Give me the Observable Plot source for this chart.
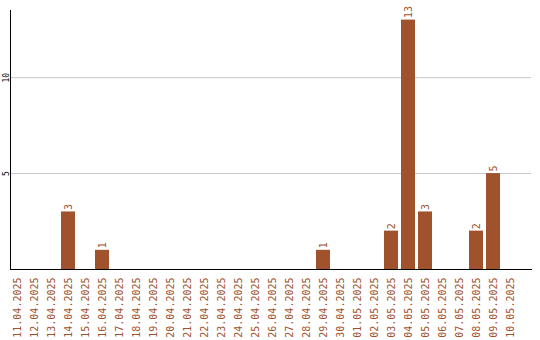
<!DOCTYPE html>
<html>
<head>
<meta charset="utf-8">
<script src="https://cdn.jsdelivr.net/npm/d3@7"></script>
<script src="https://cdn.jsdelivr.net/npm/@observablehq/plot@0.6"></script>
<style>
  html, body { margin: 0; padding: 0; background: #fff; }
</style>
</head>
<body>
<div id="chart"></div>
<script>
const dates = ["11.04.2025","12.04.2025","13.04.2025","14.04.2025","15.04.2025","16.04.2025","17.04.2025","18.04.2025","19.04.2025","20.04.2025","21.04.2025","22.04.2025","23.04.2025","24.04.2025","25.04.2025","26.04.2025","27.04.2025","28.04.2025","29.04.2025","30.04.2025","01.05.2025","02.05.2025","03.05.2025","04.05.2025","05.05.2025","06.05.2025","07.05.2025","08.05.2025","09.05.2025","10.05.2025"];
const counts = [0,0,0,3,0,1,0,0,0,0,0,0,0,0,0,0,0,0,1,0,0,0,2,13,3,0,0,2,5,0];
const yTicks = [5, 10];

const data = dates.map((d, i) => ({date: d, count: counts[i]}));
const nonzero = data.filter(d => d.count > 0);
const color = "#a0522d";
const mono = "DejaVu Sans Mono";

const chart = Plot.plot({
  width: 540,
  height: 340,
  marginLeft: 10,
  marginRight: 9,
  marginTop: 10,
  marginBottom: 71,
  style: {fontFamily: mono, background: "#fff"},
  x: {domain: dates, range: [7, 520], padding: 3/17},
  y: {domain: [0, 13.5]},
  marks: [
    Plot.gridY(yTicks, {stroke: "#c8c8c8", strokeOpacity: 1}),
    Plot.barY(data, {x: "date", y: "count", fill: color}),
    Plot.text(nonzero, {x: "date", y: "count", text: d => String(d.count), rotate: -90, textAnchor: "start", dy: -2, fill: color, fontSize: 10, fontFamily: mono}),
    Plot.axisX({tickSize: 0, tickPadding: 8, tickRotate: -90, fill: color, fontSize: 10, fontFamily: mono, label: null}),
    Plot.axisY(yTicks, {tickSize: 0, tickPadding: 2, tickRotate: -90, fill: "#000", fontSize: 8, fontFamily: mono, label: null}),
    Plot.frame({anchor: "left", stroke: "#000"}),
    Plot.frame({anchor: "bottom", stroke: "#000"})
  ]
});
document.getElementById("chart").appendChild(chart);
</script>
</body>
</html>
